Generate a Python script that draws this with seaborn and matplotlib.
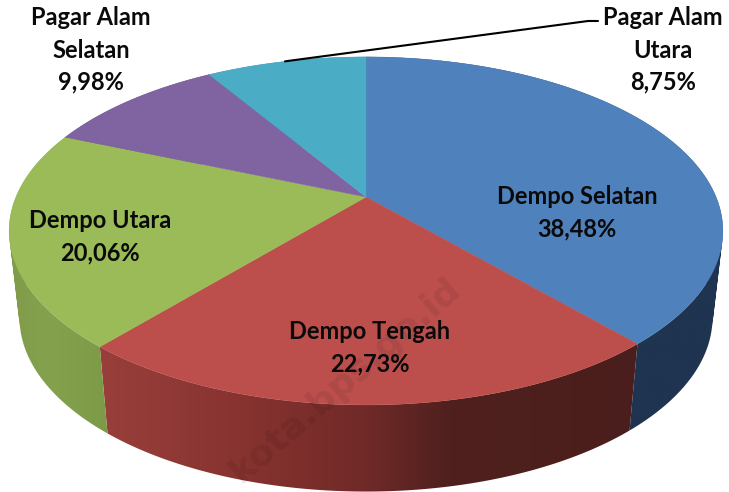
import numpy as np
import matplotlib
matplotlib.use("Agg")
import matplotlib.pyplot as plt
from matplotlib.colors import LinearSegmentedColormap, to_rgb
from matplotlib.path import Path
from matplotlib.patches import PathPatch
import seaborn as sns

# data
categories = ["Dempo Selatan", "Dempo Tengah", "Dempo Utara", "Pagar Alam\nSelatan", "Pagar Alam\nUtara"]
shares = [38.48, 22.73, 20.06, 9.98, 8.75]
top_colors = ["#4F81BD", "#BC4F4C", "#9BBB59", "#8064A2", "#4BACC6"]
side_stops = [
    [(0, "#1F3450"), (729, "#1F3450")],
    [(90, "#9A403C"), (250, "#86322F"), (365, "#702A28"), (450, "#4F201E"), (650, "#4A1E1C")],
    [(0, "#7F9A4A"), (50, "#84A24E"), (120, "#7B9846")],
    [(0, "#5F4A79"), (729, "#5F4A79")],
    [(0, "#2F7F95"), (729, "#2F7F95")],
]
label_xy = [(577, 213), (370, 348), (100, 237), (91, 50), (663, 50)]

sns.set_theme(style="white")
plt.rcParams["font.family"] = ["Lato", "DejaVu Sans"]

# perspective geometry of the pie
CX, CY, RX, A, K, DEPTH_Y, SHRINK = 366, 197, 350, 167.4, 0.195, 283.6, 0.971


def top(theta):
    w = 1 + K * np.cos(theta)
    return CX + RX * np.sin(theta) / w, CY - A * np.cos(theta) / w


def bottom(theta):
    w = 1 + K * np.cos(theta)
    return CX + SHRINK * RX * np.sin(theta) / w, DEPTH_Y - A * np.cos(theta) / w


fig = plt.figure(figsize=(7.29, 4.92), dpi=100)
ax = fig.add_axes([0, 0, 1, 1])
ax.axis("off")

edges = np.concatenate([[0], np.cumsum(shares)]) / sum(shares) * 2 * np.pi

# sides: a horizontal gradient clipped to each slice's outer wall (union of small quads)
for i in range(len(shares)):
    t = np.linspace(edges[i], edges[i + 1], 200)
    verts, codes = [], []
    for a, b in zip(t[:-1], t[1:]):
        q = np.array([top(a), top(b), bottom(b), bottom(a)])
        area = np.sum(q[:, 0] * np.roll(q[:, 1], -1) - np.roll(q[:, 0], -1) * q[:, 1])
        if area < 0:
            q = q[::-1]
        verts.extend(list(q) + [q[0]])
        codes.extend([Path.MOVETO, Path.LINETO, Path.LINETO, Path.LINETO, Path.CLOSEPOLY])
    poly = PathPatch(Path(np.array(verts), codes), transform=ax.transData, fc="none", ec="none")
    ax.add_patch(poly)
    stops = side_stops[i]
    xs = np.array([s[0] for s in stops], float)
    lo, hi = xs[0], xs[-1]
    cmap = LinearSegmentedColormap.from_list(
        f"side{i}", [((x - lo) / (hi - lo), to_rgb(c)) for x, c in stops], N=512)
    im = ax.imshow(np.linspace(0, 1, 512)[None, :], cmap=cmap, extent=[lo, hi, 492, 0],
                   aspect="auto", zorder=2, interpolation="bilinear")
    im.set_clip_path(poly)

ax.set_xlim(0, 729)
ax.set_ylim(492, 0)

# top face
for i in range(len(shares)):
    t = np.linspace(edges[i], edges[i + 1], 300)
    x, y = top(t)
    ax.fill(np.r_[CX, x], np.r_[CY, y], color=top_colors[i], lw=0.3, zorder=3)

# labels
for name, v, (x, y) in zip(categories, shares, label_xy):
    txt = name + "\n" + f"{v:.2f}".replace(".", ",") + "%"
    ax.text(x, y, txt, ha="center", va="center", fontsize=17, fontweight="bold",
            color="#0a0a0a", linespacing=1.48, zorder=5)

# leader line of the last slice
mid = (edges[-2] + edges[-1]) / 2
lx, ly = top(mid)
ax.plot([lx - 1, 588, 598], [ly, 21, 21], color="black", lw=1.5, zorder=4)

# watermark
ax.text(456, 284, "kota.bps.go.id", rotation=41, rotation_mode="anchor", ha="right", va="center",
        fontsize=26, fontweight="bold", color="black", alpha=0.08, zorder=6, family="DejaVu Sans")

fig.savefig("out.png", dpi=100)
